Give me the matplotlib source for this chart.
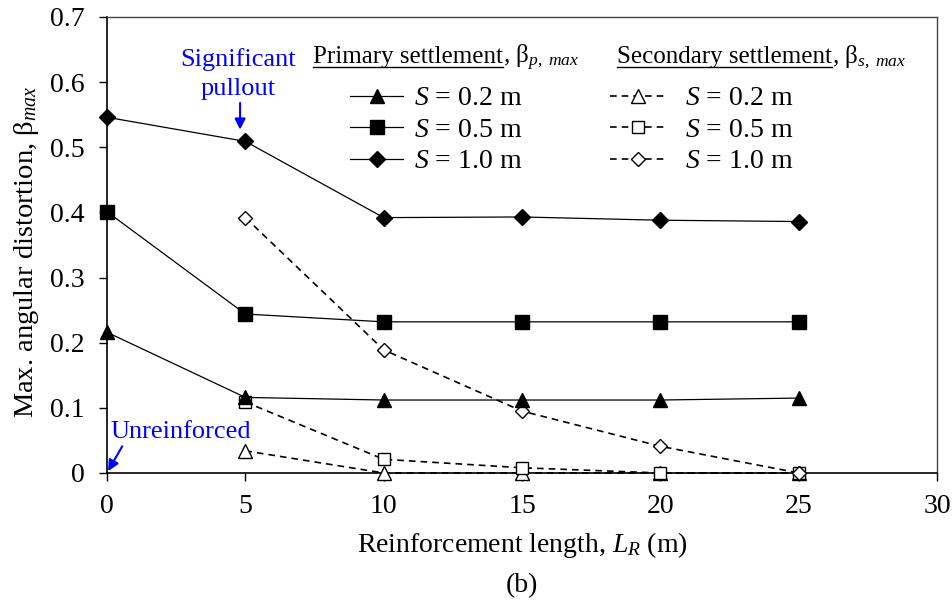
import matplotlib
matplotlib.use("Agg")
import matplotlib.pyplot as plt
from matplotlib.lines import Line2D

plt.rcParams['font.family'] = ['Liberation Serif', 'DejaVu Serif']
plt.rcParams['mathtext.fontset'] = 'custom'
plt.rcParams['mathtext.rm'] = 'Liberation Serif'
plt.rcParams['mathtext.it'] = 'Liberation Serif:italic'
plt.rcParams['mathtext.bf'] = 'Liberation Serif:bold'
plt.rcParams['font.size'] = 20

# reinforcement length (m)
LR = [0, 5, 10, 15, 20, 25]
LR_sec = [5, 10, 15, 20, 25]

# primary settlement, beta_p,max
primary_02 = [0.216, 0.116, 0.112, 0.112, 0.112, 0.115]
primary_05 = [0.401, 0.244, 0.232, 0.232, 0.232, 0.232]
primary_10 = [0.546, 0.509, 0.392, 0.393, 0.388, 0.386]

# secondary settlement, beta_s,max
secondary_02 = [0.034, 0.0, 0.0, 0.0, 0.0]
secondary_05 = [0.109, 0.021, 0.008, 0.0, 0.0]
secondary_10 = [0.392, 0.189, 0.095, 0.041, 0.0]

labels = ['$S$ = 0.2 m', '$S$ = 0.5 m', '$S$ = 1.0 m']

fig = plt.figure(figsize=(9.52, 6.06), dpi=100)
ax = fig.add_axes([0.1124, 0.2195, 0.8719, 0.7525])

dash = dict(ls=(0, (4, 3)), lw=1.2, color='black', mfc='white', mec='black', mew=1.0, clip_on=False, zorder=3)
s1, = ax.plot(LR_sec, secondary_02, marker='^', ms=10, **dash)
s2, = ax.plot(LR_sec, secondary_05, marker='s', ms=9, **dash)
s3, = ax.plot(LR_sec, secondary_10, marker='D', ms=7.5, **dash)

solid = dict(ls='-', lw=0.9, color='black', clip_on=False, zorder=4)
p1, = ax.plot(LR, primary_02, marker='^', ms=10.5, **solid)
p2, = ax.plot(LR, primary_05, marker='s', ms=9.5, **solid)
p3, = ax.plot(LR, primary_10, marker='D', ms=8, **solid)

ax.set_xlim(0, 30)
ax.set_ylim(0, 0.7)
ax.set_xticks(range(0, 31, 5))
ax.set_yticks([0, 0.1, 0.2, 0.3, 0.4, 0.5, 0.6, 0.7])
ax.set_yticklabels(['0', '0.1', '0.2', '0.3', '0.4', '0.5', '0.6', '0.7'])
ax.tick_params(direction='out', length=6, width=1, top=False, right=False)
ax.tick_params(axis='y', pad=10)
ax.tick_params(axis='x', pad=9)
for side in ['left', 'bottom']:
    ax.spines[side].set_linewidth(1.2)
for side in ['top', 'right']:
    ax.spines[side].set_linewidth(1.0)
    ax.spines[side].set_color('#444444')

ax.set_xlabel('Reinforcement length, $L_R$ (m)', labelpad=8)
ax.set_ylabel(r'Max. angular distortion, β$_{max}$', fontsize=20.5)
ax.yaxis.set_label_coords(-0.08, 0.485)
fig.text(0.548, 0.033, '(b)', ha='center', va='center', fontsize=20)

# legends
leg1 = ax.legend([p1, p2, p3], labels, loc='upper left', bbox_to_anchor=(0.293, 0.849),
                 frameon=False, borderpad=0, borderaxespad=0, handlelength=1.9,
                 handletextpad=0.4, labelspacing=0.22)
ax.add_artist(leg1)
ax.legend([s1, s2, s3], labels, loc='upper left', bbox_to_anchor=(0.606, 0.849),
          frameon=False, borderpad=0, borderaxespad=0, handlelength=2.05,
          handletextpad=0.65, labelspacing=0.22)

# legend headers with underlined words
fig.canvas.draw()
renderer = fig.canvas.get_renderer()
inv = ax.transAxes.inverted()
for x0, word, sub in [(0.248, 'Primary settlement', r', β$_{p,\ max}$'),
                      (0.6145, 'Secondary settlement', r', β$_{s,\ max}$')]:
    t = ax.text(x0, 0.898, word, transform=ax.transAxes, ha='left', va='baseline', fontsize=18)
    bb = t.get_window_extent(renderer)
    (ax0, ay0), (ax1, ay1) = inv.transform([[bb.x0, bb.y0], [bb.x1, bb.y1]])
    ax.add_line(Line2D([ax0, ax1], [ay0 + 0.003, ay0 + 0.003], transform=ax.transAxes,
                       color='black', lw=1.0, clip_on=False))
    ax.text(ax1, 0.898, sub, transform=ax.transAxes, ha='left', va='baseline', fontsize=18)

# annotations
ax.text(4.75, 0.612, 'Significant\npullout', ha='center', va='center', color='blue',
        fontsize=19, linespacing=1.4)
ax.annotate('', xy=(4.81, 0.527), xytext=(4.81, 0.568),
            arrowprops=dict(arrowstyle='-|>', color='blue', lw=1.5, mutation_scale=16,
                            shrinkA=0, shrinkB=0))
ax.text(2.67, 0.063, 'Unreinforced', ha='center', va='center', color='blue', fontsize=19)
ax.annotate('', xy=(0.04, 0.003), xytext=(0.55, 0.041),
            arrowprops=dict(arrowstyle='-|>', color='blue', lw=1.5, mutation_scale=16,
                            shrinkA=0, shrinkB=0))

fig.savefig('out.png', dpi=100)
